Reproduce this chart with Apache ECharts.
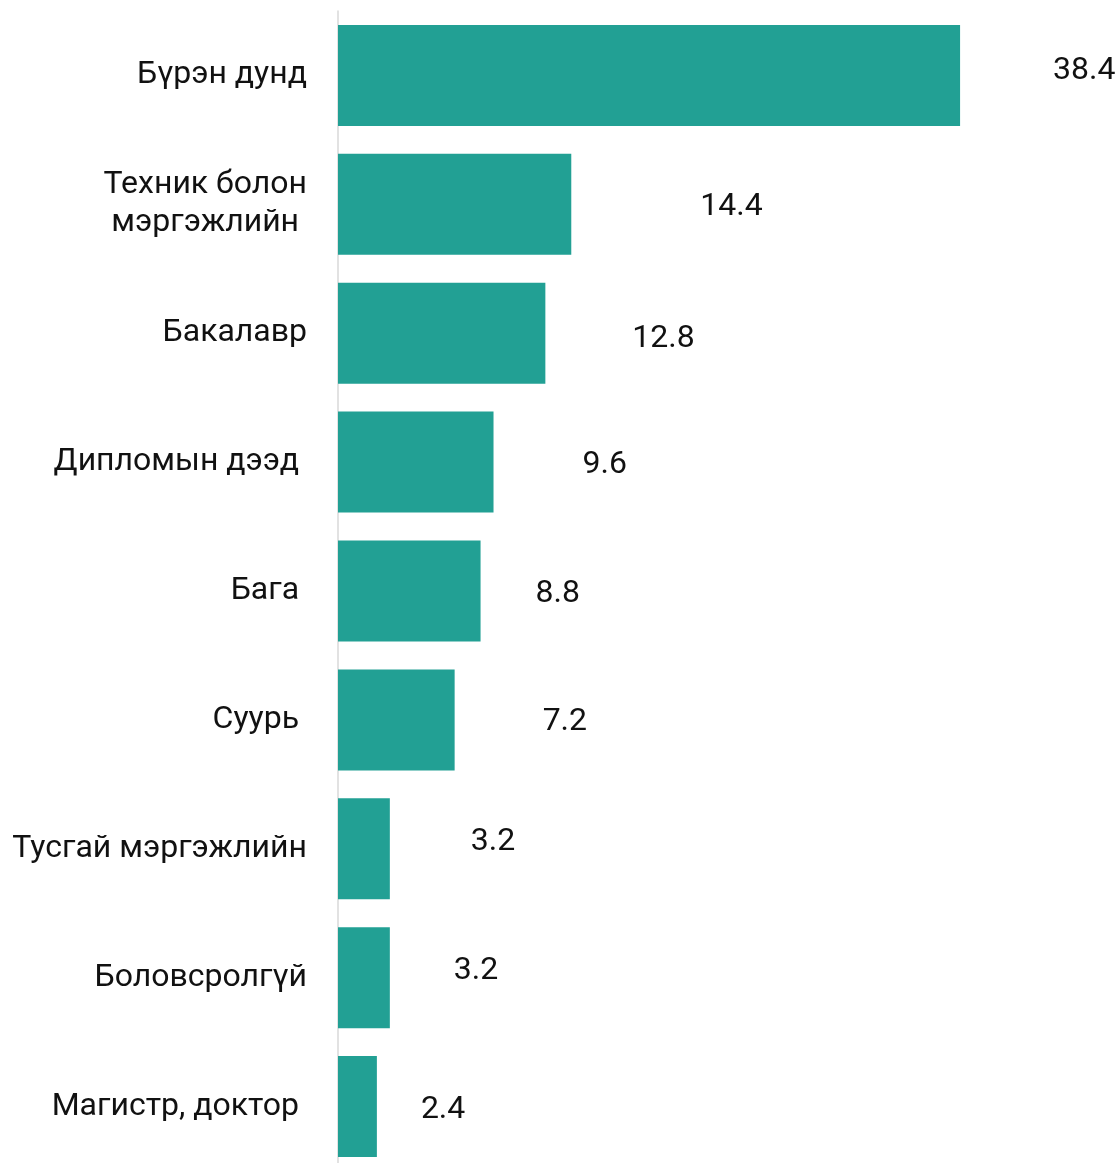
<!DOCTYPE html>
<html>
<head>
<meta charset="utf-8">
<script src="https://cdn.jsdelivr.net/npm/echarts@6/dist/echarts.min.js"></script>
<style>
  html, body { margin: 0; padding: 0; background: #fff; }
  #chart { width: 1118px; height: 1163px; }
</style>
</head>
<body>
<div id="chart"></div>
<script>
  // ангилал (дээрээс доош)
  var categories = ['Бүрэн дунд', 'Техник болон\nмэргэжлийн ', 'Бакалавр', 'Дипломын дээд ', 'Бага ', 'Суурь ', 'Тусгай мэргэжлийн', 'Боловсролгүй', 'Магистр, доктор '];
  var values = [38.4, 14.4, 12.8, 9.6, 8.8, 7.2, 3.2, 3.2, 2.4];
  var xTicks = [0, 40];

  // label placement in the original is hand-moved, so each one gets its own shift
  var labelShift = [[93, -4], [129, 3], [87, 6], [89, 3], [55, 3], [88, 2], [81, -7], [64, -7], [44, 3]];

  var barColor = '#22a094';

  var myChart = echarts.init(document.getElementById('chart'));

  var seriesData = values.map(function (v, i) {
    return {
      value: v,
      label: { offset: labelShift[i] }
    };
  });

  var option = {
    backgroundColor: '#ffffff',
    animation: false,
    grid: {
      left: 338,
      top: 11,
      width: 648,
      height: 1160,
      containLabel: false,
      outerBoundsMode: 'none'
    },
    xAxis: {
      type: 'value',
      min: xTicks[0],
      max: xTicks[1],
      show: false
    },
    yAxis: {
      type: 'category',
      inverse: true,
      data: categories,
      axisTick: { show: false },
      axisLine: {
        show: true,
        lineStyle: { color: '#d9d9d9', width: 1.5 }
      },
      axisLabel: {
        margin: 31,
        color: '#111111',
        fontFamily: 'Roboto',
        fontSize: 32,
        lineHeight: 38,
        padding: [7, 0, 0, 0]
      }
    },
    series: [{
      type: 'bar',
      data: seriesData,
      barWidth: 101,
      itemStyle: {
        color: barColor
      },
      label: {
        show: true,
        position: 'right',
        distance: 0,
        color: '#111111',
        fontFamily: 'Roboto',
        fontSize: 32
      }
    }]
  };

  myChart.setOption(option);
  window.addEventListener('resize', myChart.resize);
</script>
</body>
</html>
